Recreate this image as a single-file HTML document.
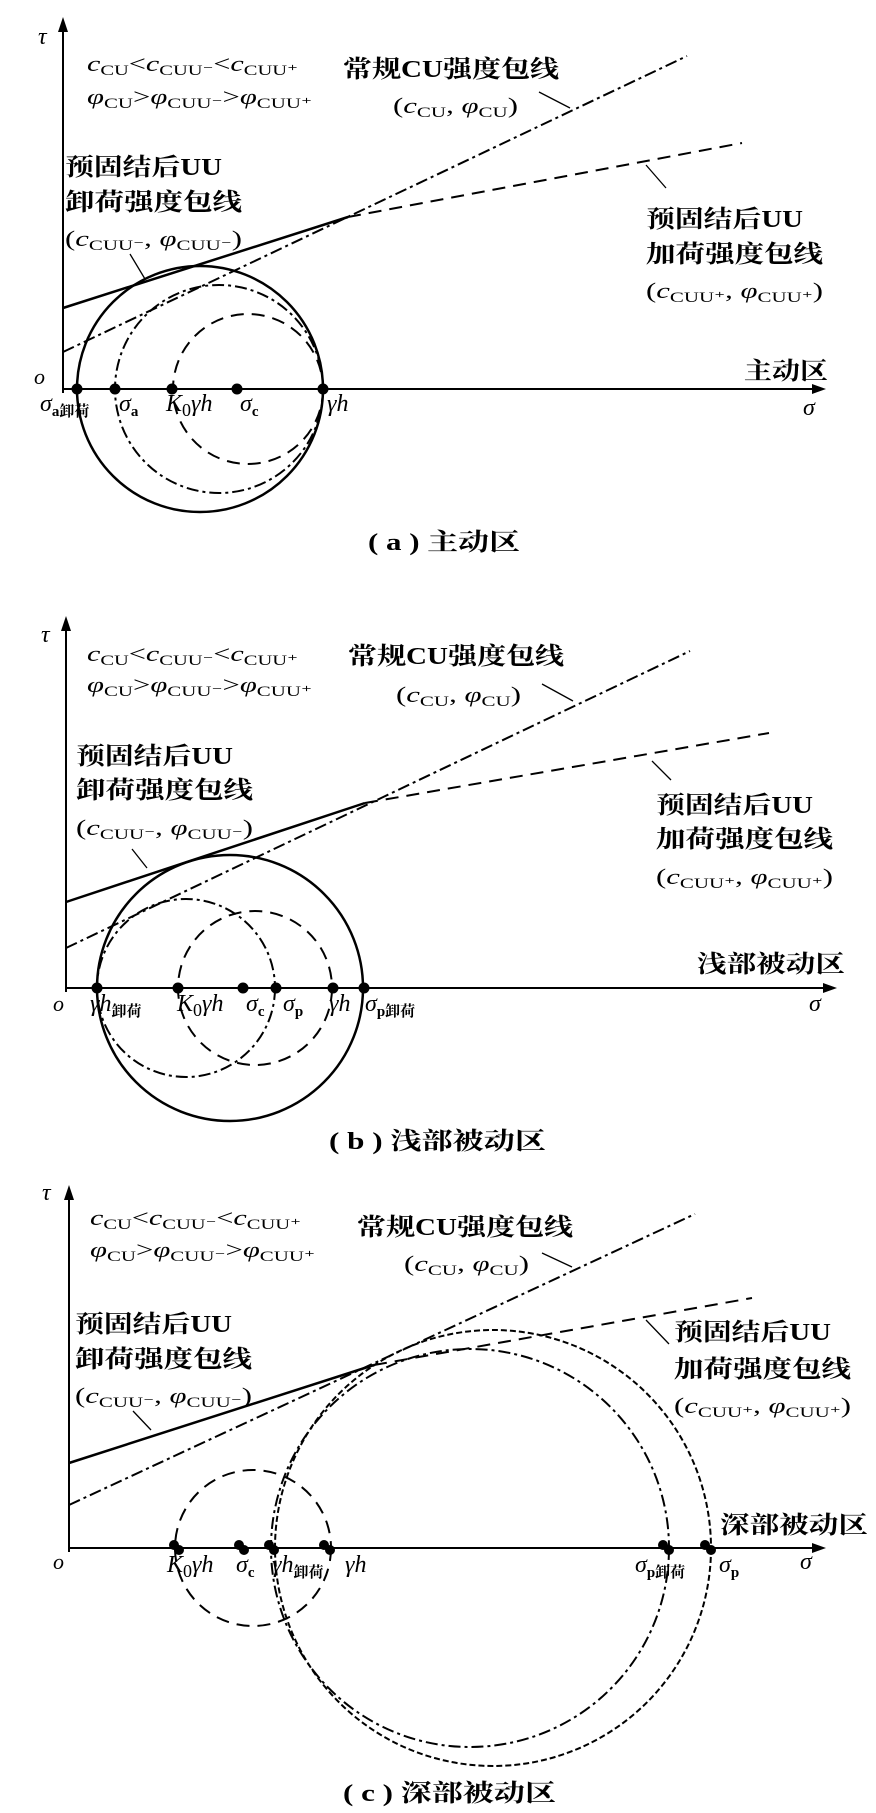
<!DOCTYPE html>
<html><head><meta charset="utf-8"><style>
html,body{margin:0;padding:0;background:#fff;}
svg{display:block;}
text{font-family:"Liberation Serif","Noto Serif CJK SC",serif;fill:#000;}
.cj{font-weight:bold;font-size:24px;}
.f{font-size:22px;}
.i{font-style:italic;}
.s{font-size:15px;}
.ax{font-size:24px;}
</style></head><body>
<svg width="876" height="1813" viewBox="0 0 876 1813" xmlns="http://www.w3.org/2000/svg">
<g stroke="#000" fill="none" stroke-width="2">
<!-- Panel a -->
<line x1="63" y1="389" x2="820" y2="389"/><line x1="63" y1="393" x2="63" y2="24"/>
<line x1="63" y1="308" x2="348" y2="217" stroke-width="2.5"/>
<line x1="63" y1="352" x2="687" y2="56" stroke-dasharray="12 4 3 4"/>
<line x1="348" y1="217" x2="742" y2="143" stroke-dasharray="13 8"/>
<circle cx="200" cy="389" r="123" stroke-width="2.5"/>
<circle cx="219" cy="389" r="104" stroke-dasharray="12 4 3 4"/>
<circle cx="248" cy="389" r="75" stroke-dasharray="13 8"/>
<line x1="539" y1="92" x2="570" y2="108" stroke-width="1.3"/>
<line x1="130" y1="254" x2="145" y2="279" stroke-width="1.3"/>
<line x1="646" y1="165" x2="666" y2="188" stroke-width="1.3"/>
<!-- Panel b -->
<line x1="66" y1="988" x2="832" y2="988"/><line x1="66" y1="992" x2="66" y2="623"/>
<line x1="66" y1="902" x2="365" y2="803" stroke-width="2.5"/>
<line x1="66" y1="948" x2="690" y2="651" stroke-dasharray="12 4 3 4"/>
<line x1="365" y1="803" x2="769" y2="733" stroke-dasharray="13 8"/>
<circle cx="230" cy="988" r="133" stroke-width="2.5"/>
<circle cx="186" cy="988" r="89" stroke-dasharray="12 4 3 4"/>
<circle cx="255" cy="988" r="77" stroke-dasharray="13 8"/>
<line x1="542" y1="684" x2="573" y2="701" stroke-width="1.3"/>
<line x1="132" y1="849" x2="147" y2="868" stroke-width="1.3"/>
<line x1="652" y1="761" x2="671" y2="780" stroke-width="1.3"/>
<!-- Panel c -->
<line x1="69" y1="1548" x2="820" y2="1548"/><line x1="69" y1="1552" x2="69" y2="1192"/>
<line x1="69" y1="1463" x2="374" y2="1365" stroke-width="2.5"/>
<line x1="69" y1="1505" x2="695" y2="1214" stroke-dasharray="12 4 3 4"/>
<line x1="374" y1="1365" x2="752" y2="1298" stroke-dasharray="13 8"/>
<circle cx="253" cy="1548" r="78" stroke-dasharray="13 8"/>
<circle cx="470" cy="1548" r="199" stroke-dasharray="12 4 3 4"/>
<circle cx="493" cy="1548" r="218" stroke-dasharray="6 3"/>
<line x1="542" y1="1253" x2="572" y2="1267" stroke-width="1.3"/>
<line x1="133" y1="1411" x2="151" y2="1430" stroke-width="1.3"/>
<line x1="646" y1="1320" x2="669" y2="1344" stroke-width="1.3"/>
</g>
<g fill="#000">
<polygon points="826,389 812,384 812,394"/><polygon points="63,17 58,32 68,32"/>
<polygon points="837,988 823,983 823,993"/><polygon points="66,616 61,631 71,631"/>
<polygon points="826,1548 812,1543 812,1553"/><polygon points="69,1185 64,1200 74,1200"/>
<circle cx="77" cy="389" r="5.5"/><circle cx="115" cy="389" r="5.5"/><circle cx="172" cy="389" r="5.5"/><circle cx="237" cy="389" r="5.5"/><circle cx="323" cy="389" r="5.5"/>
<circle cx="97" cy="988" r="5.5"/><circle cx="178" cy="988" r="5.5"/><circle cx="243" cy="988" r="5.5"/><circle cx="276" cy="988" r="5.5"/><circle cx="333" cy="988" r="5.5"/><circle cx="364" cy="988" r="5.5"/>
<circle cx="174" cy="1545" r="5"/><circle cx="179" cy="1550" r="5"/>
<circle cx="239" cy="1545" r="5"/><circle cx="244" cy="1550" r="5"/>
<circle cx="269" cy="1545" r="5"/><circle cx="274" cy="1550" r="5"/>
<circle cx="324" cy="1545" r="5"/><circle cx="330" cy="1550" r="5"/>
<circle cx="663" cy="1545" r="5"/><circle cx="669" cy="1550" r="5"/>
<circle cx="705" cy="1545" r="5"/><circle cx="711" cy="1550" r="5"/>
</g>

<!-- ===== Panel a text ===== -->
<text x="38" y="44" class="ax i">τ</text>
<text x="87" y="71" class="f" textLength="211" lengthAdjust="spacingAndGlyphs"><tspan class="i">c</tspan><tspan class="s" dy="4">CU</tspan><tspan dy="-4">&lt;</tspan><tspan class="i">c</tspan><tspan class="s" dy="4">CUU⁻</tspan><tspan dy="-4">&lt;</tspan><tspan class="i">c</tspan><tspan class="s" dy="4">CUU⁺</tspan></text>
<text x="87" y="104" class="f" textLength="225" lengthAdjust="spacingAndGlyphs"><tspan class="i">φ</tspan><tspan class="s" dy="4">CU</tspan><tspan dy="-4">&gt;</tspan><tspan class="i">φ</tspan><tspan class="s" dy="4">CUU⁻</tspan><tspan dy="-4">&gt;</tspan><tspan class="i">φ</tspan><tspan class="s" dy="4">CUU⁺</tspan></text>
<text x="343" y="77" class="cj" textLength="216" lengthAdjust="spacingAndGlyphs">常规CU强度包线</text>
<text x="393" y="113" class="f" textLength="125" lengthAdjust="spacingAndGlyphs">(<tspan class="i">c</tspan><tspan class="s" dy="4">CU</tspan><tspan dy="-4">, </tspan><tspan class="i">φ</tspan><tspan class="s" dy="4">CU</tspan><tspan dy="-4">)</tspan></text>
<text x="65" y="175" class="cj" textLength="157" lengthAdjust="spacingAndGlyphs">预固结后UU</text>
<text x="65" y="210" class="cj" textLength="177" lengthAdjust="spacingAndGlyphs">卸荷强度包线</text>
<text x="65" y="246" class="f" textLength="177" lengthAdjust="spacingAndGlyphs">(<tspan class="i">c</tspan><tspan class="s" dy="4">CUU⁻</tspan><tspan dy="-4">, </tspan><tspan class="i">φ</tspan><tspan class="s" dy="4">CUU⁻</tspan><tspan dy="-4">)</tspan></text>
<text x="646" y="227" class="cj" textLength="157" lengthAdjust="spacingAndGlyphs">预固结后UU</text>
<text x="646" y="262" class="cj" textLength="177" lengthAdjust="spacingAndGlyphs">加荷强度包线</text>
<text x="646" y="298" class="f" textLength="177" lengthAdjust="spacingAndGlyphs">(<tspan class="i">c</tspan><tspan class="s" dy="4">CUU⁺</tspan><tspan dy="-4">, </tspan><tspan class="i">φ</tspan><tspan class="s" dy="4">CUU⁺</tspan><tspan dy="-4">)</tspan></text>
<text x="744" y="379" class="cj" textLength="84" lengthAdjust="spacingAndGlyphs">主动区</text>
<text x="34" y="384" class="f i">o</text>
<text x="803" y="415" class="ax i">σ</text>
<text x="40" y="411" class="ax"><tspan class="i">σ</tspan><tspan class="s" font-weight="bold" dy="5">a卸荷</tspan></text>
<text x="119" y="411" class="ax"><tspan class="i">σ</tspan><tspan class="s" font-weight="bold" dy="5">a</tspan></text>
<text x="166" y="411" class="ax i">K<tspan font-style="normal" font-size="18" dy="5">0</tspan><tspan dy="-5">γh</tspan></text>
<text x="240" y="411" class="ax"><tspan class="i">σ</tspan><tspan class="s" font-weight="bold" dy="5">c</tspan></text>
<text x="327" y="411" class="ax i">γh</text>
<text x="368" y="550" class="cj" font-size="20" textLength="152" lengthAdjust="spacingAndGlyphs">( a ) 主动区</text>

<!-- ===== Panel b text ===== -->
<text x="41" y="642" class="ax i">τ</text>
<text x="87" y="661" class="f" textLength="211" lengthAdjust="spacingAndGlyphs"><tspan class="i">c</tspan><tspan class="s" dy="4">CU</tspan><tspan dy="-4">&lt;</tspan><tspan class="i">c</tspan><tspan class="s" dy="4">CUU⁻</tspan><tspan dy="-4">&lt;</tspan><tspan class="i">c</tspan><tspan class="s" dy="4">CUU⁺</tspan></text>
<text x="87" y="692" class="f" textLength="225" lengthAdjust="spacingAndGlyphs"><tspan class="i">φ</tspan><tspan class="s" dy="4">CU</tspan><tspan dy="-4">&gt;</tspan><tspan class="i">φ</tspan><tspan class="s" dy="4">CUU⁻</tspan><tspan dy="-4">&gt;</tspan><tspan class="i">φ</tspan><tspan class="s" dy="4">CUU⁺</tspan></text>
<text x="348" y="664" class="cj" textLength="216" lengthAdjust="spacingAndGlyphs">常规CU强度包线</text>
<text x="396" y="702" class="f" textLength="125" lengthAdjust="spacingAndGlyphs">(<tspan class="i">c</tspan><tspan class="s" dy="4">CU</tspan><tspan dy="-4">, </tspan><tspan class="i">φ</tspan><tspan class="s" dy="4">CU</tspan><tspan dy="-4">)</tspan></text>
<text x="76" y="764" class="cj" textLength="157" lengthAdjust="spacingAndGlyphs">预固结后UU</text>
<text x="76" y="798" class="cj" textLength="177" lengthAdjust="spacingAndGlyphs">卸荷强度包线</text>
<text x="76" y="835" class="f" textLength="177" lengthAdjust="spacingAndGlyphs">(<tspan class="i">c</tspan><tspan class="s" dy="4">CUU⁻</tspan><tspan dy="-4">, </tspan><tspan class="i">φ</tspan><tspan class="s" dy="4">CUU⁻</tspan><tspan dy="-4">)</tspan></text>
<text x="656" y="813" class="cj" textLength="157" lengthAdjust="spacingAndGlyphs">预固结后UU</text>
<text x="656" y="847" class="cj" textLength="177" lengthAdjust="spacingAndGlyphs">加荷强度包线</text>
<text x="656" y="884" class="f" textLength="177" lengthAdjust="spacingAndGlyphs">(<tspan class="i">c</tspan><tspan class="s" dy="4">CUU⁺</tspan><tspan dy="-4">, </tspan><tspan class="i">φ</tspan><tspan class="s" dy="4">CUU⁺</tspan><tspan dy="-4">)</tspan></text>
<text x="697" y="972" class="cj" textLength="148" lengthAdjust="spacingAndGlyphs">浅部被动区</text>
<text x="53" y="1011" class="f i">o</text>
<text x="809" y="1011" class="ax i">σ</text>
<text x="90" y="1011" class="ax"><tspan class="i">γh</tspan><tspan class="s" font-weight="bold" dy="5">卸荷</tspan></text>
<text x="177" y="1011" class="ax i">K<tspan font-style="normal" font-size="18" dy="5">0</tspan><tspan dy="-5">γh</tspan></text>
<text x="246" y="1011" class="ax"><tspan class="i">σ</tspan><tspan class="s" font-weight="bold" dy="5">c</tspan></text>
<text x="283" y="1011" class="ax"><tspan class="i">σ</tspan><tspan class="s" font-weight="bold" dy="5">p</tspan></text>
<text x="329" y="1011" class="ax i">γh</text>
<text x="365" y="1011" class="ax"><tspan class="i">σ</tspan><tspan class="s" font-weight="bold" dy="5">p卸荷</tspan></text>
<text x="329" y="1149" class="cj" font-size="20" textLength="217" lengthAdjust="spacingAndGlyphs">( b ) 浅部被动区</text>

<!-- ===== Panel c text ===== -->
<text x="42" y="1200" class="ax i">τ</text>
<text x="90" y="1225" class="f" textLength="211" lengthAdjust="spacingAndGlyphs"><tspan class="i">c</tspan><tspan class="s" dy="4">CU</tspan><tspan dy="-4">&lt;</tspan><tspan class="i">c</tspan><tspan class="s" dy="4">CUU⁻</tspan><tspan dy="-4">&lt;</tspan><tspan class="i">c</tspan><tspan class="s" dy="4">CUU⁺</tspan></text>
<text x="90" y="1257" class="f" textLength="225" lengthAdjust="spacingAndGlyphs"><tspan class="i">φ</tspan><tspan class="s" dy="4">CU</tspan><tspan dy="-4">&gt;</tspan><tspan class="i">φ</tspan><tspan class="s" dy="4">CUU⁻</tspan><tspan dy="-4">&gt;</tspan><tspan class="i">φ</tspan><tspan class="s" dy="4">CUU⁺</tspan></text>
<text x="357" y="1235" class="cj" textLength="216" lengthAdjust="spacingAndGlyphs">常规CU强度包线</text>
<text x="404" y="1271" class="f" textLength="125" lengthAdjust="spacingAndGlyphs">(<tspan class="i">c</tspan><tspan class="s" dy="4">CU</tspan><tspan dy="-4">, </tspan><tspan class="i">φ</tspan><tspan class="s" dy="4">CU</tspan><tspan dy="-4">)</tspan></text>
<text x="75" y="1332" class="cj" textLength="157" lengthAdjust="spacingAndGlyphs">预固结后UU</text>
<text x="75" y="1367" class="cj" textLength="177" lengthAdjust="spacingAndGlyphs">卸荷强度包线</text>
<text x="75" y="1403" class="f" textLength="177" lengthAdjust="spacingAndGlyphs">(<tspan class="i">c</tspan><tspan class="s" dy="4">CUU⁻</tspan><tspan dy="-4">, </tspan><tspan class="i">φ</tspan><tspan class="s" dy="4">CUU⁻</tspan><tspan dy="-4">)</tspan></text>
<text x="674" y="1340" class="cj" textLength="157" lengthAdjust="spacingAndGlyphs">预固结后UU</text>
<text x="674" y="1377" class="cj" textLength="177" lengthAdjust="spacingAndGlyphs">加荷强度包线</text>
<text x="674" y="1413" class="f" textLength="177" lengthAdjust="spacingAndGlyphs">(<tspan class="i">c</tspan><tspan class="s" dy="4">CUU⁺</tspan><tspan dy="-4">, </tspan><tspan class="i">φ</tspan><tspan class="s" dy="4">CUU⁺</tspan><tspan dy="-4">)</tspan></text>
<text x="720" y="1533" class="cj" textLength="148" lengthAdjust="spacingAndGlyphs">深部被动区</text>
<text x="53" y="1569" class="f i">o</text>
<text x="800" y="1569" class="ax i">σ</text>
<text x="167" y="1572" class="ax i">K<tspan font-style="normal" font-size="18" dy="5">0</tspan><tspan dy="-5">γh</tspan></text>
<text x="236" y="1572" class="ax"><tspan class="i">σ</tspan><tspan class="s" font-weight="bold" dy="5">c</tspan></text>
<text x="272" y="1572" class="ax"><tspan class="i">γh</tspan><tspan class="s" font-weight="bold" dy="5">卸荷</tspan></text>
<text x="345" y="1572" class="ax i">γh</text>
<text x="635" y="1572" class="ax"><tspan class="i">σ</tspan><tspan class="s" font-weight="bold" dy="5">p卸荷</tspan></text>
<text x="719" y="1572" class="ax"><tspan class="i">σ</tspan><tspan class="s" font-weight="bold" dy="5">p</tspan></text>
<text x="343" y="1801" class="cj" font-size="20" textLength="213" lengthAdjust="spacingAndGlyphs">( c ) 深部被动区</text>
</svg>
</body></html>
